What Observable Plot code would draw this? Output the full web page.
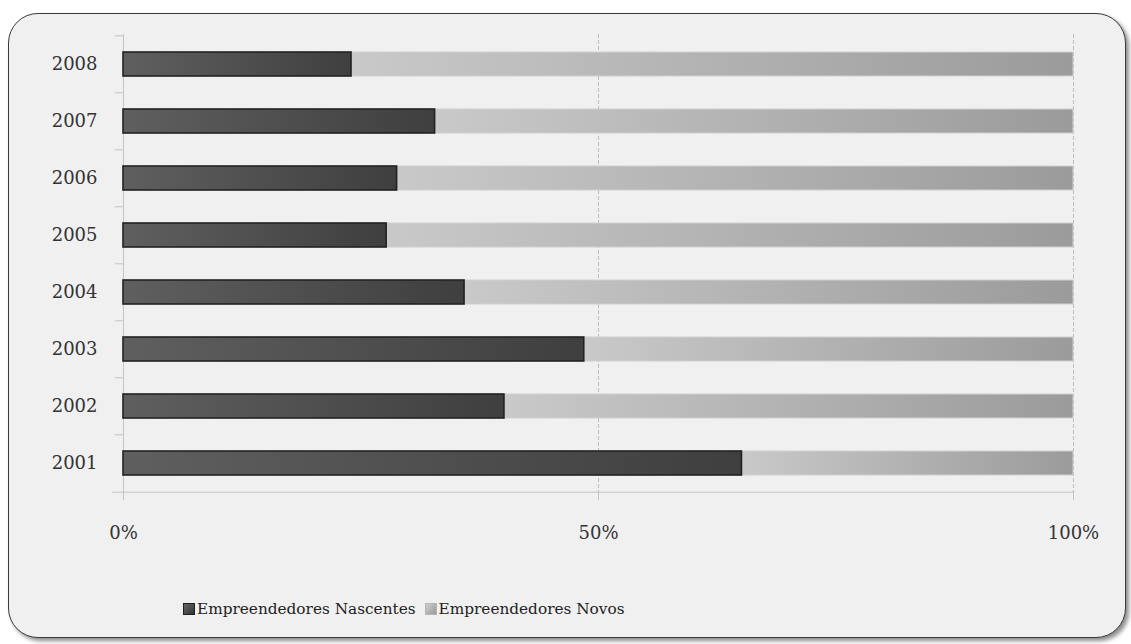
<!DOCTYPE html>
<html>
<head>
<meta charset="utf-8">
<script src="https://cdn.jsdelivr.net/npm/d3@7"></script>
<script src="https://cdn.jsdelivr.net/npm/@observablehq/plot@0.6"></script>
<style>
  html, body { margin: 0; padding: 0; background: #ffffff; width: 1131px; height: 644px; overflow: hidden; }
  #frame {
    position: absolute; left: 8px; top: 13px; width: 1116px; height: 623px;
    background: #f0f0f0; border: 1.5px solid #3a3a3a; border-radius: 30px;
    box-shadow: 3px 3px 4px rgba(0,0,0,0.45);
  }
  #chart { position: absolute; left: 0; top: 0; }
  #legend {
    position: absolute; left: 183px; top: 600px; font-family: "DejaVu Serif", serif;
    font-size: 15.3px; color: #222; display: flex; align-items: center; white-space: nowrap;
  }
  .sw { display: inline-block; width: 10px; height: 10px; margin-right: 2px; }
  .item { display: flex; align-items: center; margin-right: 9px; }
</style>
</head>
<body>
<svg width="0" height="0" style="position:absolute">
  <defs>
    <linearGradient id="gN" x1="0" y1="0" x2="1" y2="0">
      <stop offset="0" stop-color="#5f5f5f"/>
      <stop offset="1" stop-color="#3f3f3f"/>
    </linearGradient>
    <linearGradient id="gV" x1="0" y1="0" x2="1" y2="0">
      <stop offset="0" stop-color="#c9c9c9"/>
      <stop offset="1" stop-color="#9b9b9b"/>
    </linearGradient>
  </defs>
</svg>
<div id="frame"></div>
<div id="chart"></div>
<div id="legend">
  <span class="item"><span class="sw" style="background:linear-gradient(135deg,#666,#333);border:1.5px solid #1e1e1e"></span>Empreendedores Nascentes</span>
  <span class="item"><span class="sw" style="background:linear-gradient(135deg,#cfcfcf,#999);border:1.5px solid #b5b5b5"></span>Empreendedores Novos</span>
</div>
<script>
const years = ["2001", "2002", "2003", "2004", "2005", "2006", "2007", "2008"];
const nascentes = [65.1, 40.1, 48.5, 35.9, 27.7, 28.8, 32.8, 24.0];
const novos = [34.9, 59.9, 51.5, 64.1, 72.3, 71.2, 67.2, 76.0];
const xTicks = [0, 50, 100];
const seriesNames = ["Empreendedores Nascentes", "Empreendedores Novos"];

const rows = years.map((y, i) => ({year: y, nasc: nascentes[i], novo: novos[i]}));

const font = "DejaVu Serif, serif";
const plot = Plot.plot({
  width: 1131,
  height: 570,
  marginLeft: 123,
  marginRight: 58,
  marginTop: 34,
  marginBottom: 77,
  style: {background: "transparent", fontFamily: font, fontSize: "18px", color: "#333"},
  x: {domain: [0, 100]},
  y: {domain: years.slice().reverse(), paddingInner: 0.58, paddingOuter: 0.29},
  marks: [
    Plot.gridX(xTicks.slice(1), {stroke: "#bdbdbd", strokeOpacity: 1, strokeDasharray: "4,2"}),
    Plot.ruleX([0], {stroke: "#c4c4c4"}),
    Plot.axisY({tickSize: 8, dy: -28.7, tickFormat: () => "", stroke: "#c4c4c4", label: null}),
    Plot.axisY([years[0]], {tickSize: 11, dy: 28.7, tickFormat: () => "", stroke: "#c4c4c4", label: null}),
    Plot.axisY({tickSize: 0, tickPadding: 26, fontSize: 18, fill: "#333", label: null}),
    Plot.axisX(xTicks, {tickSize: 7, tickPadding: 26, tickFormat: d => d + "%", stroke: "#c4c4c4", fontSize: 18, fill: "#333", label: null}),
    Plot.ruleY([years[0]], {dy: 28.7, x1: 0, x2: 100, stroke: "#c4c4c4"}),
    Plot.barX(rows, {y: "year", x1: "nasc", x2: d => d.nasc + d.novo, fill: "url(#gV)", stroke: "#cfcfcf", strokeWidth: 1}),
    Plot.barX(rows, {y: "year", x1: 0, x2: "nasc", fill: "url(#gN)", stroke: "#222", strokeWidth: 1.6})
  ]
});
document.getElementById("chart").appendChild(plot);
</script>
</body>
</html>
